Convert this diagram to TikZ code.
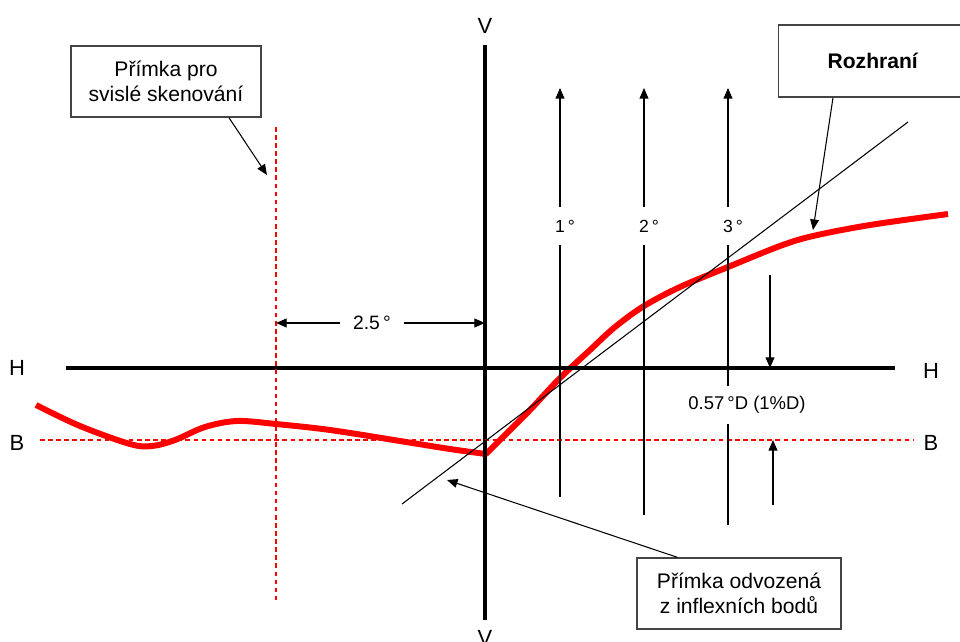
\documentclass[tikz,border=0pt]{standalone}
\usepackage{fontspec}
\setmainfont{Liberation Sans}
\usetikzlibrary{arrows.meta,positioning,calc}
\definecolor{scanred}{HTML}{FF0000}
\definecolor{boxgray}{HTML}{444444}

\begin{document}
\begin{tikzpicture}[x=0.02cm, y=-0.02cm, every node/.style={align=center,font=\fontsize{12}{14.3}\selectfont},
  axis/.style={line width=1.8pt},
  thinline/.style={line width=0.6pt},
  reddash/.style={scanred,line width=0.9pt,dash pattern=on 2.6pt off 2pt},
  tip/.style={-{Triangle[length=6pt,width=5pt]},line width=0.6pt},
  infobox/.style={draw=boxgray,line width=0.8pt,inner sep=0pt},
  axislabel/.style={font=\fontsize{12.5}{14}\selectfont,inner sep=0pt},
  deglabel/.style={font=\fontsize{10}{12}\selectfont,inner xsep=0pt,inner ysep=7pt},
  dimlabel/.style={font=\fontsize{10.5}{12}\selectfont,inner xsep=7pt,inner ysep=5.5pt}]
\useasboundingbox (0,0) rectangle (960,642);
% measured curve
\draw[scanred,line width=3.4pt,line join=round,line cap=butt] plot[smooth,tension=0.55] coordinates {(36,405) (80,426) (130,444) (152,446) (175,440) (205,427) (237,421) (276,424) (330,430) (400,441) (450,449) (486,454)} -- plot[smooth,tension=0.55] coordinates {(486,454) (500,440) (530,410) (560,378) (590,350) (615,327) (644,306) (680,287) (728,267) (780,246) (813,236) (870,225) (948,214)};
% axes
\coordinate (Vtop) at (485,45);
\coordinate (Vbot) at (485,620);
\coordinate (Hleft) at (66,368);
\coordinate (Hright) at (895,368);
\coordinate (Bleft) at (40,440);
\coordinate (Bright) at (913,440);
\coordinate (scantop) at (276,127);
\coordinate (scanbot) at (276,600);
\draw[axis] (Vtop)--(Vbot);
\draw[axis] (Hleft)--(Hright);
\draw[reddash] (Bleft)--(Bright);
\draw[reddash] (scantop)--(scanbot);
\node[axislabel] (Vup) at (485,26) {V};
\node[axislabel] (Vdown) at (485,638) {V};
\node[axislabel] (Hl) at (17,368) {H};
\node[axislabel] (Hr) at (931,371) {H};
\node[axislabel] (Bl) at (17,443) {B};
\node[axislabel] (Br) at (931,443) {B};
% scan lines 1..3
\coordinate (s1top) at (560,88);
\coordinate (s1bot) at (560,497);
\coordinate (s2top) at (644,88);
\coordinate (s2bot) at (644,515);
\coordinate (s3top) at (728,88);
\coordinate (s3bot) at (728,525);
\node[deglabel] (deg1) at (565,226) {1\,°};
\node[deglabel] (deg2) at (649,226) {2\,°};
\node[deglabel] (deg3) at (733,226) {3\,°};
\node[dimlabel] (offset) at (747,405) {0.57\,°D (1\%D)};
\draw[thinline] (s1bot)--(s1bot |- deg1.south);
\draw[tip] (s1bot |- deg1.north)--(s1top);
\draw[thinline] (s2bot)--(s2bot |- deg2.south);
\draw[tip] (s2bot |- deg2.north)--(s2top);
\draw[thinline] (s3bot)--(s3bot |- offset.south);
\draw[thinline] (s3bot |- offset.north)--(s3bot |- deg3.south);
\draw[tip] (s3bot |- deg3.north)--(s3top);
% 0.57 D offset
\coordinate (offtop) at (770,275);
\coordinate (offbot) at (773,505);
\draw[tip] (offtop)--(offtop |- Hleft);
\draw[tip] (offbot)--(offbot |- Bleft);
% 2.5 deg distance
\node[dimlabel,font=\fontsize{11}{12}\selectfont] (gap) at (372,323) {2.5\,°};
\draw[tip] (gap.west)--(scantop |- gap);
\draw[tip] (gap.east)--(Vtop |- gap);
% line through inflexion points
\coordinate (tanA) at (402,504);
\coordinate (tanB) at (908,122);
\draw[thinline] (tanA)--(tanB);
% boxes
\node[infobox,minimum width=3.8cm,minimum height=1.42cm] (scanbox) at (166,81.5) {Přímka pro\\svislé skenování};
\node[infobox,minimum width=3.78cm,minimum height=1.44cm] (interfacebox) at (873,61) {\textbf{Rozhraní}};
\node[infobox,minimum width=4.08cm,minimum height=1.42cm] (tangentbox) at (739,593.5) {Přímka odvozená\\z inflexních bodů};
\coordinate (scantip) at (267,175);
\coordinate (ifacetip) at (813,230);
\coordinate (tantip) at (447,480);
\draw[tip] ($(scanbox.south)+(63,0)$)--(scantip);
\draw[tip] ($(interfacebox.south)+(-40,0)$)--(ifacetip);
\draw[tip] ($(tangentbox.north west)+(41,0)$)--(tantip);
\end{tikzpicture}
\end{document}
